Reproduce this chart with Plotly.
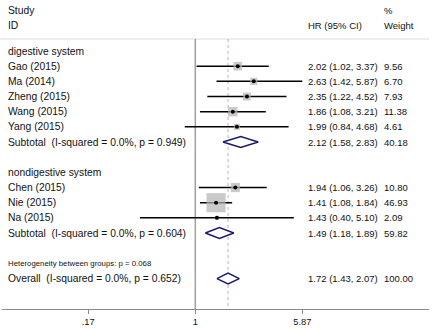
import math
import plotly.graph_objects as go

# ---- data ----
studies = ["Gao (2015)", "Ma (2014)", "Zheng (2015)", "Wang (2015)", "Yang (2015)",
           "Chen (2015)", "Nie (2015)", "Na (2015)"]
hr = [2.02, 2.63, 2.35, 1.86, 1.99, 1.94, 1.41, 1.43]
ci_lo = [1.02, 1.42, 1.22, 1.08, 0.84, 1.06, 1.08, 0.40]
ci_hi = [3.37, 5.87, 4.52, 3.21, 4.68, 3.26, 1.84, 5.10]
weights = [9.56, 6.70, 7.93, 11.38, 4.61, 10.80, 46.93, 2.09]
study_rows = [1, 2, 3, 4, 5, 9, 10, 11]

group_names = ["digestive system", "nondigestive system"]
group_rows = [0, 8]

pooled_labels = ["Subtotal  (I-squared = 0.0%, p = 0.949)",
                 "Subtotal  (I-squared = 0.0%, p = 0.604)",
                 "Overall  (I-squared = 0.0%, p = 0.652)"]
pooled_hr = [2.12, 1.49, 1.72]
pooled_lo = [1.58, 1.18, 1.43]
pooled_hi = [2.83, 1.89, 2.07]
pooled_w = [40.18, 59.82, 100.00]
pooled_rows = [6, 12, 15]

het_text = "Heterogeneity between groups: p = 0.068"
het_row = 14

tick_vals = [0.17, 1, 5.87]
tick_text = [".17", "1", "5.87"]

# ---- layout geometry ----
W, H = 435, 330
ML, MR, MT, MB = 2, 6, 0, 21
plot_w = W - ML - MR
ROW0_PX, ROW_H = 51, 15.17
y_top = (0 - ROW0_PX) / ROW_H
y_bot = ((H - MB) - ROW0_PX) / ROW_H
X1_PX, PX_PER_DEC = 195.3, 139.2
x_left = (ML - X1_PX) / PX_PER_DEC
x_right = (W - MR - X1_PX) / PX_PER_DEC


def paper_x(px):
    return (px - ML) / plot_w


header_row = (39 - ROW0_PX) / ROW_H
FONT = "Liberation Sans, Arial, sans-serif"
TXT = "#111111"

fig = go.Figure()

# CI lines
xs, ys = [], []
for r, lo, hi in zip(study_rows, ci_lo, ci_hi):
    xs += [lo, hi, None]
    ys += [r, r, None]
fig.add_trace(go.Scatter(x=xs, y=ys, mode="lines",
                         line=dict(color="black", width=1.5), hoverinfo="skip"))

# weight squares
fig.add_trace(go.Scatter(x=hr, y=study_rows, mode="markers",
                         marker=dict(symbol="square", color="#b4b4b4",
                                     size=[2.8 * math.sqrt(w) for w in weights],
                                     line=dict(width=0)),
                         hoverinfo="skip"))
# center dots
fig.add_trace(go.Scatter(x=hr, y=study_rows, mode="markers",
                         marker=dict(symbol="circle", color="black", size=4),
                         hoverinfo="skip"))

# diamonds
for r, p, lo, hi in zip(pooled_rows, pooled_hr, pooled_lo, pooled_hi):
    fig.add_trace(go.Scatter(x=[lo, p, hi, p, lo], y=[r, r - 0.36, r, r + 0.36, r],
                             mode="lines", fill="toself", fillcolor="white",
                             line=dict(color="#1a1a6e", width=1.5), hoverinfo="skip"))

# reference lines
fig.add_shape(type="line", xref="paper", yref="y", x0=-0.01, x1=1.0,
              y0=header_row, y1=header_row, line=dict(color="#dcdcdc", width=1), layer="below")
fig.add_shape(type="line", xref="x", yref="y", x0=1, x1=1,
              y0=header_row, y1=y_bot, line=dict(color="#a0a0a0", width=1.5), layer="below")
fig.add_shape(type="line", xref="x", yref="y", x0=pooled_hr[2], x1=pooled_hr[2],
              y0=header_row, y1=y_bot, line=dict(color="#caaeae", width=1, dash="3px,3px"),
              layer="below")

ann = []


def add_text(px, row, text, size, anchor="left"):
    ann.append(dict(x=paper_x(px), xref="paper", y=row, yref="y", text=text,
                    showarrow=False, xanchor=anchor, yanchor="middle",
                    font=dict(family=FONT, size=size, color=TXT), borderpad=0))


LEFT_PX, HR_PX, W_PX = 7, 307, 383
LS, RS = 10.3, 9.5
add_text(LEFT_PX, -2.7, "Study", LS)
add_text(LEFT_PX, -1.7, "ID", LS)
add_text(HR_PX, -1.7, "HR (95% CI)", RS)
add_text(W_PX, -2.7, "%", RS)
add_text(W_PX, -1.7, "Weight", RS)

for name, r in zip(group_names, group_rows):
    add_text(LEFT_PX, r, name, LS)
for s, r, h, lo, hi, w in zip(studies, study_rows, hr, ci_lo, ci_hi, weights):
    add_text(LEFT_PX, r, s, LS)
    add_text(HR_PX, r, f"{h:.2f} ({lo:.2f}, {hi:.2f})", RS)
    add_text(W_PX, r, f"{w:.2f}", RS)
for lab, r, h, lo, hi, w in zip(pooled_labels, pooled_rows, pooled_hr, pooled_lo, pooled_hi, pooled_w):
    add_text(LEFT_PX, r, lab, LS)
    add_text(HR_PX, r, f"{h:.2f} ({lo:.2f}, {hi:.2f})", RS)
    add_text(W_PX, r, f"{w:.2f}", RS)
add_text(LEFT_PX, het_row, het_text, 7.8)

fig.update_layout(
    width=W, height=H, margin=dict(l=ML, r=MR, t=MT, b=MB),
    paper_bgcolor="white", plot_bgcolor="white", showlegend=False,
    annotations=ann,
    xaxis=dict(type="log", range=[x_left, x_right], showgrid=False, zeroline=False,
               showline=True, linecolor="#8a8a8a", linewidth=1,
               ticks="outside", ticklen=4, tickcolor="#8a8a8a", tickwidth=1,
               tickvals=tick_vals, ticktext=tick_text,
               tickfont=dict(family=FONT, size=9.3, color=TXT), fixedrange=True),
    yaxis=dict(range=[y_bot, y_top], visible=False, fixedrange=True),
)

fig.write_html("out.html")
